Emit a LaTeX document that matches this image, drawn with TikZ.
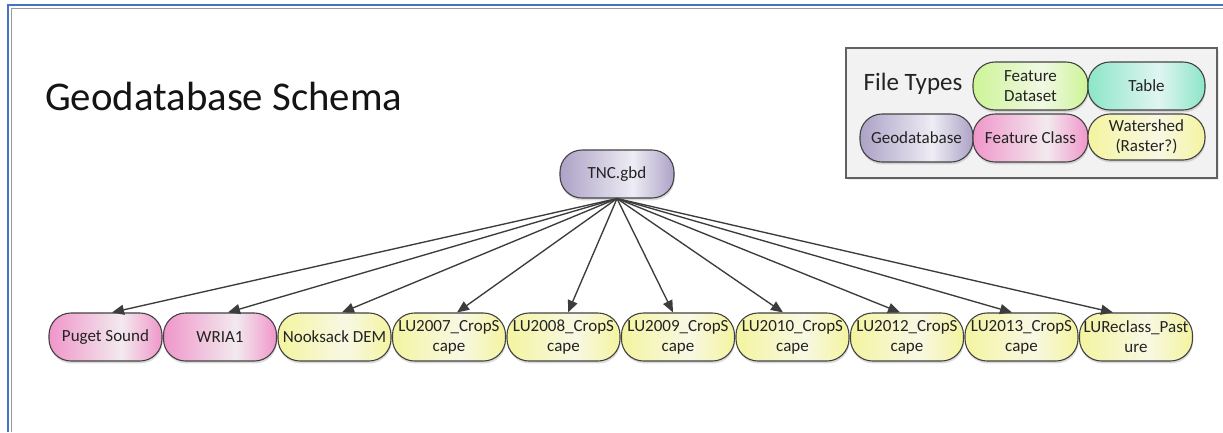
\documentclass[tikz,border=0pt]{standalone}
\usepackage{fontspec}
\setmainfont{Carlito}
\usetikzlibrary{arrows.meta,shadows}

% fill colours of the file types
\definecolor{framebl}{RGB}{68,114,196}
\definecolor{edgegrey}{RGB}{66,66,66}
\definecolor{inkgrey}{RGB}{35,35,35}
\definecolor{linkgrey}{RGB}{60,60,60}
\definecolor{pinkC}{RGB}{240,150,202}
\definecolor{pinkM}{RGB}{242,234,238}
\definecolor{yelC}{RGB}{244,244,160}
\definecolor{yelM}{RGB}{248,248,228}
\definecolor{lavC}{RGB}{172,162,198}
\definecolor{lavM}{RGB}{238,236,244}
\definecolor{grnC}{RGB}{205,244,150}
\definecolor{grnM}{RGB}{240,249,228}
\definecolor{tealC}{RGB}{140,230,200}
\definecolor{tealM}{RGB}{224,245,241}
\definecolor{legendfill}{RGB}{242,242,242}

% horizontal shadings, lightest a little right of the middle
\pgfdeclarehorizontalshading{pinkshade}{100bp}{color(0bp)=(pinkC); color(25bp)=(pinkC); color(57bp)=(pinkM); color(75bp)=(pinkC); color(100bp)=(pinkC)}
\pgfdeclarehorizontalshading{yelshade}{100bp}{color(0bp)=(yelC); color(25bp)=(yelC); color(55bp)=(yelM); color(75bp)=(yelC); color(100bp)=(yelC)}
\pgfdeclarehorizontalshading{lavshade}{100bp}{color(0bp)=(lavC); color(25bp)=(lavC); color(57bp)=(lavM); color(75bp)=(lavC); color(100bp)=(lavC)}
\pgfdeclarehorizontalshading{grnshade}{100bp}{color(0bp)=(grnC); color(25bp)=(grnC); color(55bp)=(grnM); color(75bp)=(grnC); color(100bp)=(grnC)}
\pgfdeclarehorizontalshading{tealshade}{100bp}{color(0bp)=(tealC); color(25bp)=(tealC); color(55bp)=(tealM); color(75bp)=(tealC); color(100bp)=(tealC)}

\tikzset{
  pill/.style={draw=edgegrey, line width=1.1pt, rounded corners=22pt,
    minimum width=113pt, minimum height=48pt, inner sep=0.5pt,
    text=inkgrey, align=center, font=\fontsize{17}{20}\selectfont,
    drop shadow={opacity=0.28, shadow xshift=0.6pt, shadow yshift=-2.4pt}},
  fclass/.style={pill, shading=pinkshade},
  raster/.style={pill, shading=yelshade},
  gdb/.style={pill, shading=lavshade},
  fdataset/.style={pill, shading=grnshade},
  tabletype/.style={pill, shading=tealshade},
  link/.style={draw=linkgrey, line width=1.35pt,
    -{Triangle[length=12pt,width=10pt]}},
}

\begin{document}
\begin{tikzpicture}[x=1pt, y=-1pt]
\useasboundingbox (0,0) rectangle (1223,432);
\fill[white] (0,0) rectangle (1223,432);

% page frame
\draw[framebl, line width=2.6pt] (8,432) -- (8,5) -- (1223,5);
\draw[black!40, line width=0.6pt] (11.6,432) -- (11.6,8.6) -- (1223,8.6);

% title
\node[anchor=base west, inner sep=0pt, text=black!92, font=\fontsize{40.8}{48}\selectfont]
  (title) at (45,110) {Geodatabase Schema};

% legend
\node[draw=black!62, line width=1.4pt, fill=legendfill, minimum width=371pt,
  minimum height=130pt, inner sep=0pt,
  drop shadow={opacity=0.15, shadow xshift=2pt, shadow yshift=-2pt}]
  (legend) at (1031.5,113) {};
\node[text=inkgrey, font=\fontsize{25}{29}\selectfont] (ftypes) at (913,84) {File Types};
\node[fdataset, minimum width=115pt] (lfd) at (1030.5,86) {Feature\\Dataset};
\node[tabletype, minimum width=117pt] (ltab) at (1146.5,86) {Table};
\node[gdb] (lgdb) at (916.5,138) {Geodatabase};
\node[fclass, minimum width=115pt] (lfc) at (1030.5,138) {Feature Class};
\node[raster, minimum width=117pt, minimum height=46pt] (lws) at (1146.5,137) {Watershed\\(Raster?)};

% root
\node[gdb, minimum width=114pt] (tnc) at (617,174) {TNC.gbd};

% contents of the geodatabase
\node[fclass] (p1) at (105.5,337) {Puget Sound};
\node[fclass] (p2) at (220,337) {WRIA1};
\node[raster] (p3) at (334.5,337) {Nooksack DEM};
\node[raster] (p4) at (449,337) {LU2007\_CropS\\cape};
\node[raster] (p5) at (563.5,337) {LU2008\_CropS\\cape};
\node[raster] (p6) at (678,337) {LU2009\_CropS\\cape};
\node[raster] (p7) at (792.5,337) {LU2010\_CropS\\cape};
\node[raster] (p8) at (907,337) {LU2012\_CropS\\cape};
\node[raster] (p9) at (1021.5,337) {LU2013\_CropS\\cape};
\node[raster] (p10) at (1136,337) {LUReclass\_Past\\ure};

% links
\draw[link] (tnc.south) -- ([xshift=6.5pt]p1.north);
\draw[link] (tnc.south) -- ([xshift=8pt]p2.north);
\draw[link] (tnc.south) -- ([xshift=7.5pt]p3.north);
\draw[link] (tnc.south) -- ([xshift=8pt]p4.north);
\draw[link] (tnc.south) -- ([xshift=4.5pt]p5.north);
\draw[link] (tnc.south) -- ([xshift=-5pt]p6.north);
\draw[link] (tnc.south) -- ([xshift=-9.5pt]p7.north);
\draw[link] (tnc.south) -- ([xshift=-7pt]p8.north);
\draw[link] (tnc.south) -- ([xshift=-9.5pt]p9.north);
\draw[link] (tnc.south) -- ([xshift=-23pt]p10.north);
\end{tikzpicture}
\end{document}
